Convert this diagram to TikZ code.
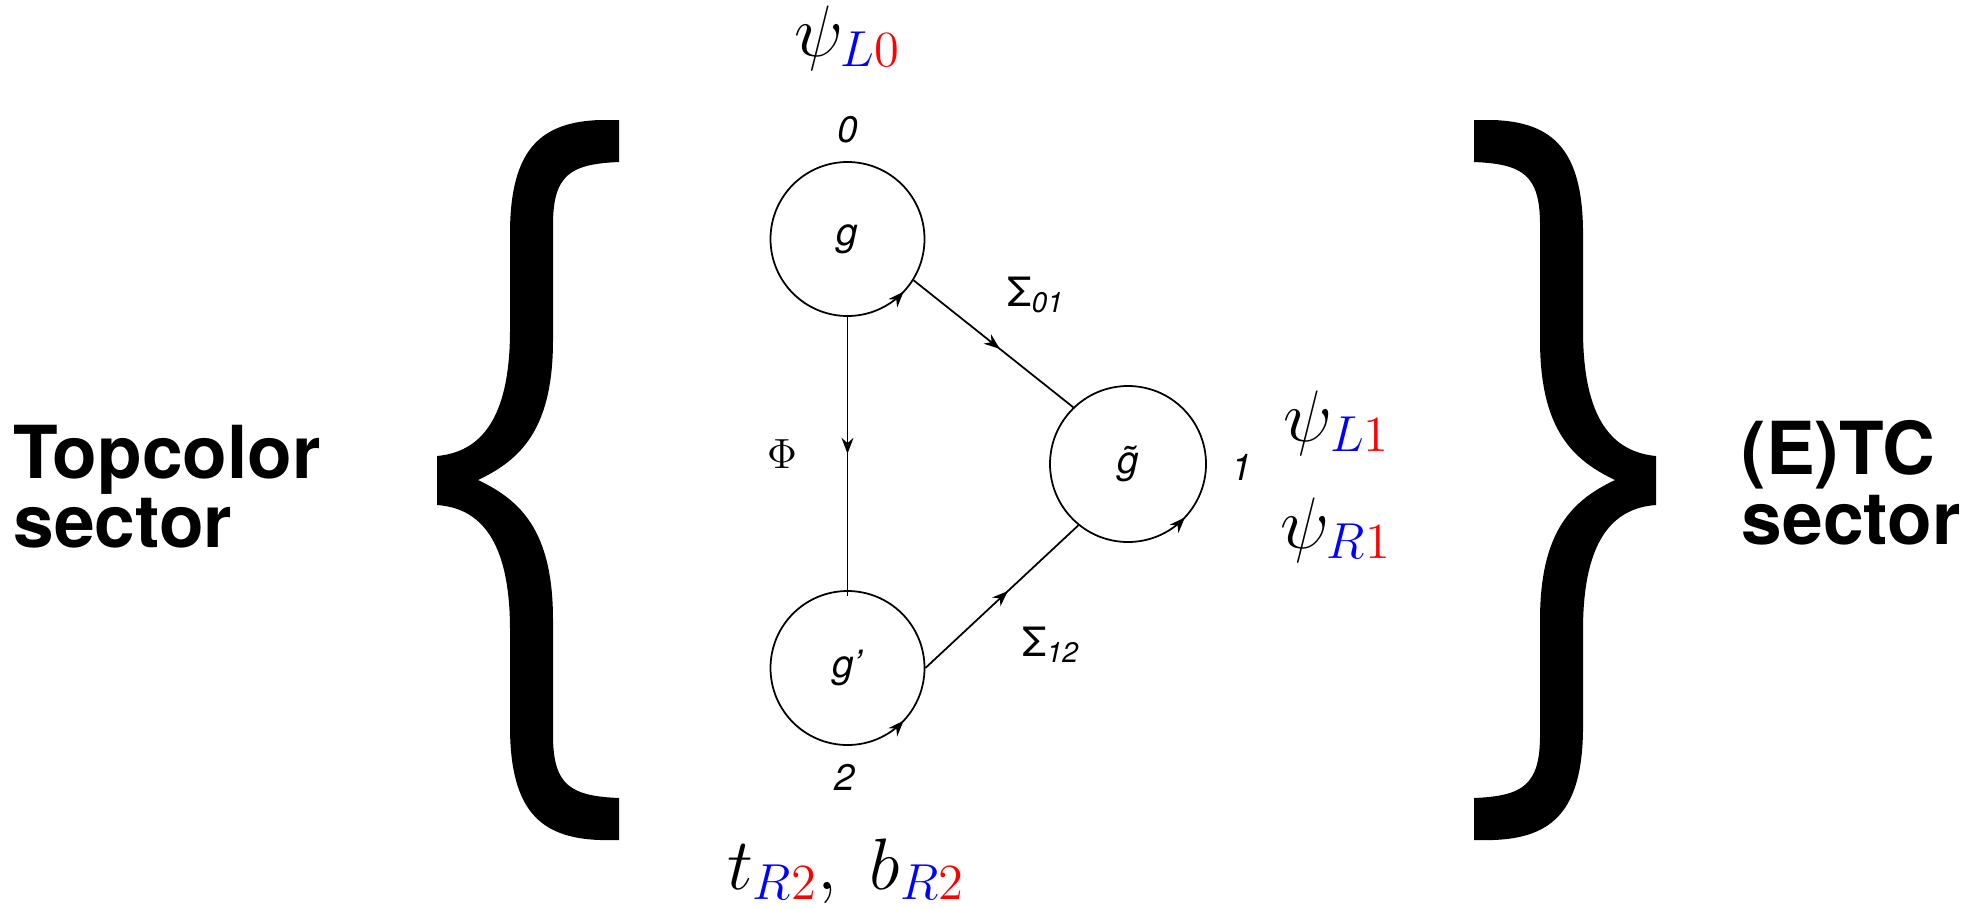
\documentclass[tikz,border=0pt]{standalone}
\usepackage[no-math]{fontspec}
\setmainfont{TeX Gyre Heros}
\usetikzlibrary{arrows.meta,decorations.markings,positioning}

% outline of the big curly brace (left one)
\newcommand{\bracepath}{(6.19,7.88) -- (6.00,7.88) .. controls (5.40,7.86) and (5.11,7.58) .. (5.10,6.78) -- (5.10,5.78) .. controls (5.10,4.88) and (4.80,4.56) .. (4.37,4.52) -- (4.37,4.03) .. controls (4.80,4.00) and (5.10,3.68) .. (5.10,2.78) -- (5.10,1.78) .. controls (5.11,0.98) and (5.40,0.70) .. (6.00,0.68) -- (6.19,0.68) -- (6.19,1.10) .. controls (5.70,1.12) and (5.53,1.23) .. (5.53,1.73) -- (5.53,2.88) .. controls (5.53,3.78) and (5.20,4.08) .. (4.78,4.28) .. controls (5.20,4.48) and (5.53,4.78) .. (5.53,5.68) -- (5.53,6.83) .. controls (5.53,7.33) and (5.70,7.44) .. (6.19,7.46) -- cycle}

\begin{document}
\begin{tikzpicture}[>={Stealth[length=4.5pt,width=3.4pt]},
	gauge/.style={draw, circle, line width=0.5pt, minimum size=1.54cm, inner sep=0pt, font=\itshape\fontsize{11}{13}\selectfont,
		postaction={decorate, decoration={markings, mark=at position 0.88 with {\arrow{>}}}}},
	link/.style={line width=0.5pt, postaction={decorate, decoration={markings, mark=at position #1 with {\arrow{>}}}}},
	link/.default=0.54,
	tag/.style={font=\itshape\fontsize{10.5}{12}\selectfont, inner sep=0pt},
	coupling/.style={font=\fontsize{11.5}{13}\selectfont, inner sep=0pt},
	field/.style={font=\fontsize{20.74}{25}\selectfont, inner sep=0pt, anchor=base},
	sector/.style={font=\bfseries\fontsize{20.8}{19.9}\selectfont, align=left, inner sep=0pt, anchor=north west}]
	\useasboundingbox (0,0) rectangle (19.87,9.08);
	% braces
	\fill \bracepath;
	\begin{scope}[xshift=20.93cm, xscale=-1]
		\fill \bracepath;
	\end{scope}
	\node[sector] (topcolor) at (0.13,4.84) {Topcolor\\sector};
	\node[sector] (etc) at (17.41,4.88) {(E)TC\\sector};
	% moose
	\node[gauge] (g) at (8.475,6.69) {g};
	\node[gauge] (gp) at (8.475,2.40) {g’};
	\node[gauge, minimum size=1.56cm] (gt) at (11.28,4.44) {\~{g}};
	\node[tag] (site0) at (8.48,7.78) {0};
	\node[tag] (site1) at (12.42,4.41) {1};
	\node[tag] (site2) at (8.45,1.31) {2};
	\draw[link=0.49] (g.south) -- ([yshift=-0.06cm]gp.north);
	\draw[link] (g.-32) -- (gt.134);
	\draw[link] (gp.east) -- (gt.231);
	\node[coupling] (phi) at (7.82,4.54) {$\Phi$};
	\node[coupling] (sig01) at (10.36,6.13) {Σ\textsubscript{\itshape 01}};
	\node[coupling] (sig12) at (10.51,2.63) {Σ\textsubscript{\itshape 12}};
	% fermions
	\node[field] (psiL0) at (8.475,8.52) {$\psi_{\color{blue}L\color{red}0}$};
	\node[field] (psiL1) at (13.37,4.67) {$\psi_{\color{blue}L\color{red}1}$};
	\node[field] (psiR1) at (13.36,3.60) {$\psi_{\color{blue}R\color{red}1}$};
	\node[field] (tbR2) at (8.46,0.19) {$t_{\color{blue}R\color{red}2},\ b_{\color{blue}R\color{red}2}$};
\end{tikzpicture}
\end{document}
